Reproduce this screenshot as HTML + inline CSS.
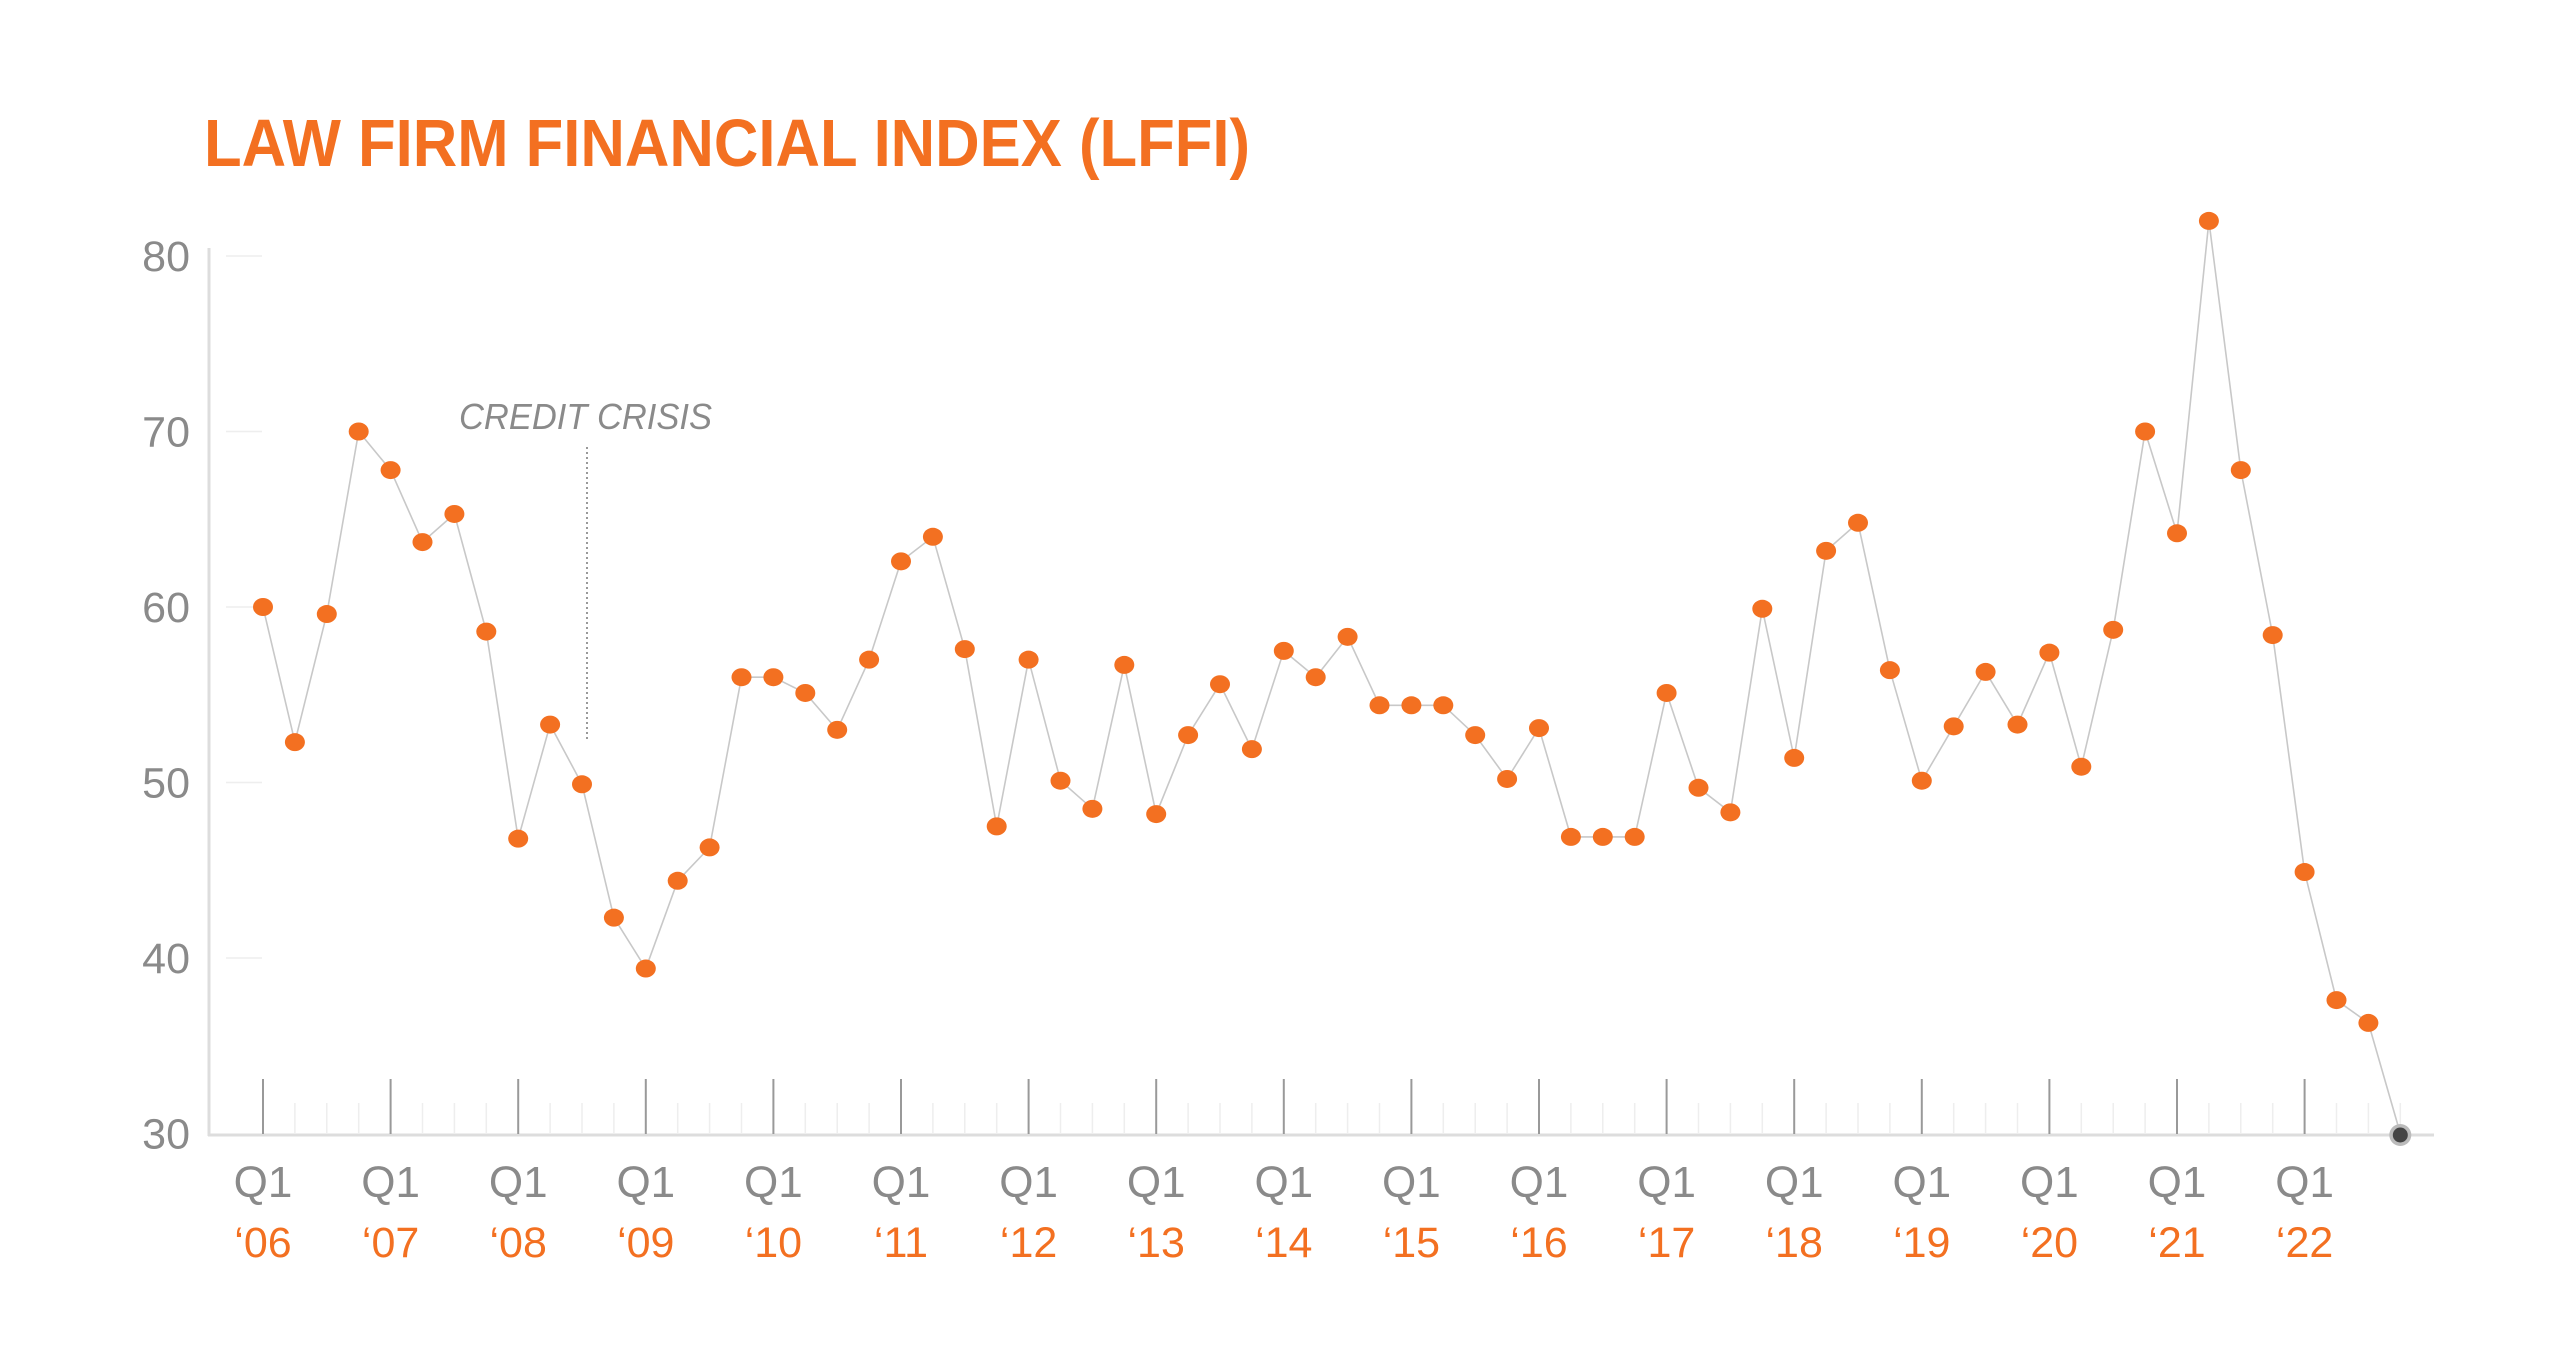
<!DOCTYPE html>
<html><head><meta charset="utf-8"><style>
html,body{margin:0;padding:0;background:#fff;}
svg{display:block;}
</style></head><body>
<svg id="c" width="2560" height="1366" xmlns="http://www.w3.org/2000/svg" font-family="Liberation Sans, sans-serif">
<rect width="2560" height="1366" fill="#fff"/>
<text x="204" y="166" font-size="67" font-weight="bold" fill="#f37021" textLength="1046" lengthAdjust="spacingAndGlyphs">LAW FIRM FINANCIAL INDEX (LFFI)</text>
<text x="459" y="429" font-size="36" font-style="italic" fill="#8a8a8a" textLength="253" lengthAdjust="spacingAndGlyphs">CREDIT CRISIS</text>
<line x1="587" y1="447" x2="587" y2="742" stroke="#999" stroke-width="2" stroke-dasharray="2,3"/>
<g id="g"></g>
</svg>
<script>
var vals=[60,52.3,59.6,70, 67.8,63.7,65.3,58.6, 46.8,53.3,49.9,42.3, 39.4,44.4,46.3,56, 56,55.1,53,57, 62.6,64,57.6,47.5, 57,50.1,48.5,56.7, 48.2,52.7,55.6,51.9, 57.5,56,58.3,54.4, 54.4,54.4,52.7,50.2, 53.1,46.9,46.9,46.9, 55.1,49.7,48.3,59.9, 51.4,63.2,64.8,56.4, 50.1,53.2,56.3,53.3, 57.4,50.9,58.7,70, 64.2,82,67.8,58.4, 44.9,37.6,36.3,30];
var X=function(i){return 263+31.9*i;}, Y=function(v){return 256+(80-v)*17.55;};
var s='';
s+='<line x1="209" y1="248" x2="209" y2="1136" stroke="#ddd" stroke-width="3"/>';
s+='<line x1="208" y1="1135" x2="2434" y2="1135" stroke="#ddd" stroke-width="3"/>';
for(var v=30;v<=80;v+=10){var y=Y(v);
 s+='<text x="190" y="'+(y+15)+'" font-size="43" fill="#8a8a8a" text-anchor="end">'+v+'</text>';
 if(v>30)s+='<line x1="226" y1="'+y+'" x2="262" y2="'+y+'" stroke="#eee" stroke-width="1.5"/>';}
for(var i=0;i<68;i++){var x=X(i);
 if(i%4==0){s+='<line x1="'+x+'" y1="1079" x2="'+x+'" y2="1134" stroke="#999" stroke-width="2"/>';
  var yr=6+i/4; yr=(yr<10?'0':'')+yr;
  s+='<text x="'+x+'" y="1197" font-size="44" fill="#8a8a8a" text-anchor="middle">Q1</text>';
  s+='<text x="'+x+'" y="1257" font-size="43" fill="#f37021" text-anchor="middle">\u2018'+yr+'</text>';}
 else s+='<line x1="'+x+'" y1="1103" x2="'+x+'" y2="1134" stroke="#eee" stroke-width="1.5"/>';}
var p='';for(var i=0;i<68;i++)p+=X(i).toFixed(1)+','+Y(vals[i]).toFixed(1)+' ';
s+='<polyline points="'+p+'" fill="none" stroke="#c8c8c8" stroke-width="1.6"/>';
for(var i=0;i<67;i++)s+='<ellipse cx="'+X(i)+'" cy="'+Y(vals[i])+'" rx="10" ry="9" fill="#f37021"/>';
s+='<circle cx="'+X(67)+'" cy="1135" r="11" fill="#bbb"/><circle cx="'+X(67)+'" cy="1135" r="7.5" fill="#444"/>';
document.getElementById('g').innerHTML=s;
</script>
</body></html>
